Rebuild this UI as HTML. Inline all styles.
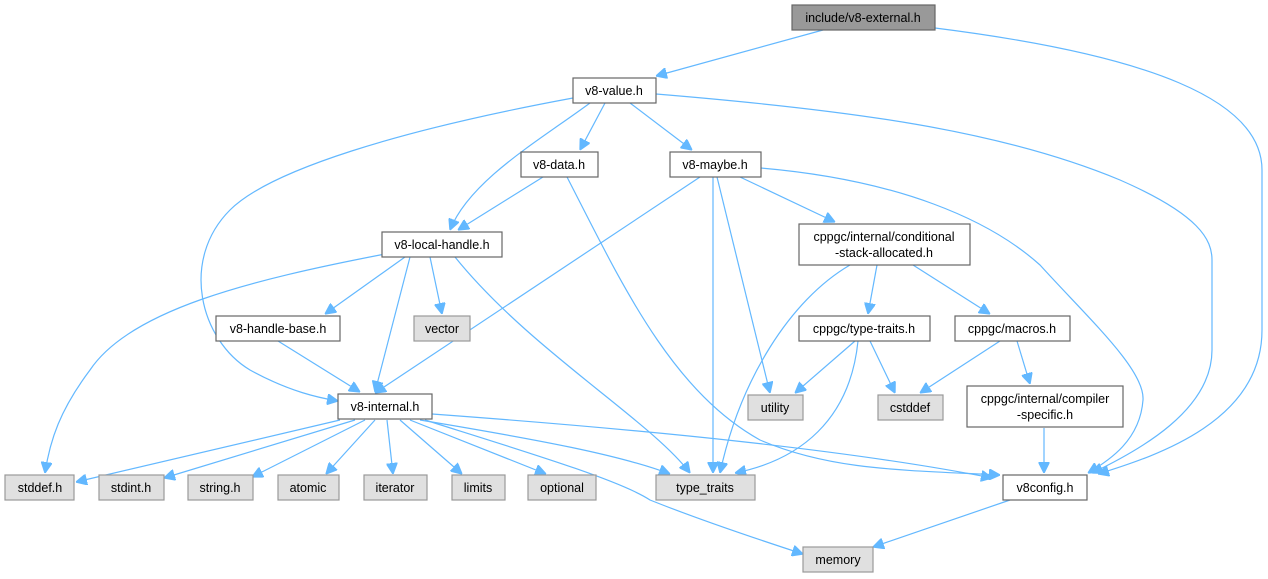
<!DOCTYPE html>
<html><head><meta charset="utf-8"><style>
body{margin:0;background:#fff;}
svg{display:block;font-family:"Liberation Sans",Arial,sans-serif;font-size:12.5px;}
.n rect{fill:#fff;stroke:#666;stroke-width:1.2}
.g rect{fill:#e0e0e0;stroke:#999;stroke-width:1.2}
.t rect{fill:#999;stroke:#666;stroke-width:1.2}
text{text-anchor:middle;fill:#000}
path{fill:none;stroke:#63b8ff;stroke-width:1.2}
</style></head><body>
<svg width="1268" height="579" viewBox="0 0 1268 579">
<defs><marker id="a" viewBox="0 0 10 10" refX="10" refY="5" markerWidth="11" markerHeight="11" markerUnits="userSpaceOnUse" orient="auto"><path d="M0,0L10,5L0,10z" style="fill:#63b8ff;stroke:#63b8ff"/></marker></defs>
<g marker-end="url(#a)">
<path d="M823,30L656,76"/>
<path d="M935,28C1150,55 1262,100 1262,170L1262,330C1262,420 1160,455 1098,474"/>
<path d="M656,94C850,110 1000,130 1120,180C1200,215 1212,240 1212,260L1212,350C1212,410 1140,450 1092,473"/>
<path d="M605,103L580,150"/>
<path d="M630,103L692,150"/>
<path d="M590,103C540,140 470,180 450,230"/>
<path d="M573,98C400,130 270,170 230,210C180,260 200,340 250,370C290,392 320,398 338,401"/>
<path d="M543,177L458,230"/>
<path d="M567,177C620,280 670,390 760,440C830,470 900,470 1000,475"/>
<path d="M700,177L375,393"/>
<path d="M713,177L713,473"/>
<path d="M717,177L770,393"/>
<path d="M740,177L835,222"/>
<path d="M761,168C900,180 990,220 1040,265C1090,320 1145,370 1143,400C1140,440 1110,460 1088,473"/>
<path d="M430,257L442,314"/>
<path d="M410,257L375,392"/>
<path d="M405,257L325,314"/>
<path d="M385,254C250,280 130,310 90,370C60,410 50,440 45,473"/>
<path d="M455,257C530,350 650,420 690,473"/>
<path d="M278,341L360,392"/>
<path d="M877,265L868,314"/>
<path d="M913,265L990,314"/>
<path d="M850,265C790,300 740,380 720,473"/>
<path d="M1000,341L920,393"/>
<path d="M1017,341L1030,384"/>
<path d="M1044,428L1044,473"/>
<path d="M855,341L795,393"/>
<path d="M870,341L895,393"/>
<path d="M858,341C850,420 800,460 735,473"/>
<path d="M340,420L76,482"/>
<path d="M355,420L164,478"/>
<path d="M365,420L252,477"/>
<path d="M375,420L326,474"/>
<path d="M387,420L393,474"/>
<path d="M400,420L462,474"/>
<path d="M410,420L546,474"/>
<path d="M420,420C540,440 620,455 670,474"/>
<path d="M425,420C520,450 620,480 650,500C700,520 760,540 803,554"/>
<path d="M432,414C650,430 850,450 992,478"/>
<path d="M1010,500L873,547"/>
</g>
<g class="t"><rect x="792" y="5" width="143" height="25"/><text x="863" y="22">include/v8-external.h</text></g>
<g class="n"><rect x="573" y="78" width="83" height="25"/><text x="614" y="95">v8-value.h</text></g>
<g class="n"><rect x="521" y="152" width="77" height="25"/><text x="559" y="169">v8-data.h</text></g>
<g class="n"><rect x="670" y="152" width="91" height="25"/><text x="715" y="169">v8-maybe.h</text></g>
<g class="n"><rect x="382" y="232" width="120" height="25"/><text x="442" y="249">v8-local-handle.h</text></g>
<g class="n"><rect x="799" y="224" width="171" height="41"/><text x="884" y="241">cppgc/internal/conditional</text><text x="884" y="257">-stack-allocated.h</text></g>
<g class="n"><rect x="216" y="316" width="124" height="25"/><text x="278" y="333">v8-handle-base.h</text></g>
<g class="g"><rect x="414" y="316" width="56" height="25"/><text x="442" y="333">vector</text></g>
<g class="n"><rect x="799" y="316" width="131" height="25"/><text x="864" y="333">cppgc/type-traits.h</text></g>
<g class="n"><rect x="955" y="316" width="115" height="25"/><text x="1012" y="333">cppgc/macros.h</text></g>
<g class="n"><rect x="338" y="394" width="94" height="25"/><text x="385" y="411">v8-internal.h</text></g>
<g class="g"><rect x="748" y="395" width="55" height="25"/><text x="775" y="412">utility</text></g>
<g class="g"><rect x="878" y="395" width="65" height="25"/><text x="910" y="412">cstddef</text></g>
<g class="n"><rect x="967" y="386" width="156" height="41"/><text x="1045" y="403">cppgc/internal/compiler</text><text x="1045" y="419">-specific.h</text></g>
<g class="g"><rect x="5" y="475" width="69" height="25"/><text x="40" y="492">stddef.h</text></g>
<g class="g"><rect x="99" y="475" width="65" height="25"/><text x="131" y="492">stdint.h</text></g>
<g class="g"><rect x="188" y="475" width="65" height="25"/><text x="220" y="492">string.h</text></g>
<g class="g"><rect x="278" y="475" width="61" height="25"/><text x="308" y="492">atomic</text></g>
<g class="g"><rect x="364" y="475" width="63" height="25"/><text x="395" y="492">iterator</text></g>
<g class="g"><rect x="452" y="475" width="53" height="25"/><text x="478" y="492">limits</text></g>
<g class="g"><rect x="528" y="475" width="68" height="25"/><text x="562" y="492">optional</text></g>
<g class="g"><rect x="656" y="475" width="99" height="25"/><text x="705" y="492">type_traits</text></g>
<g class="n"><rect x="1003" y="475" width="84" height="25"/><text x="1045" y="492">v8config.h</text></g>
<g class="g"><rect x="803" y="547" width="70" height="25"/><text x="838" y="564">memory</text></g>
</svg>
</body></html>
